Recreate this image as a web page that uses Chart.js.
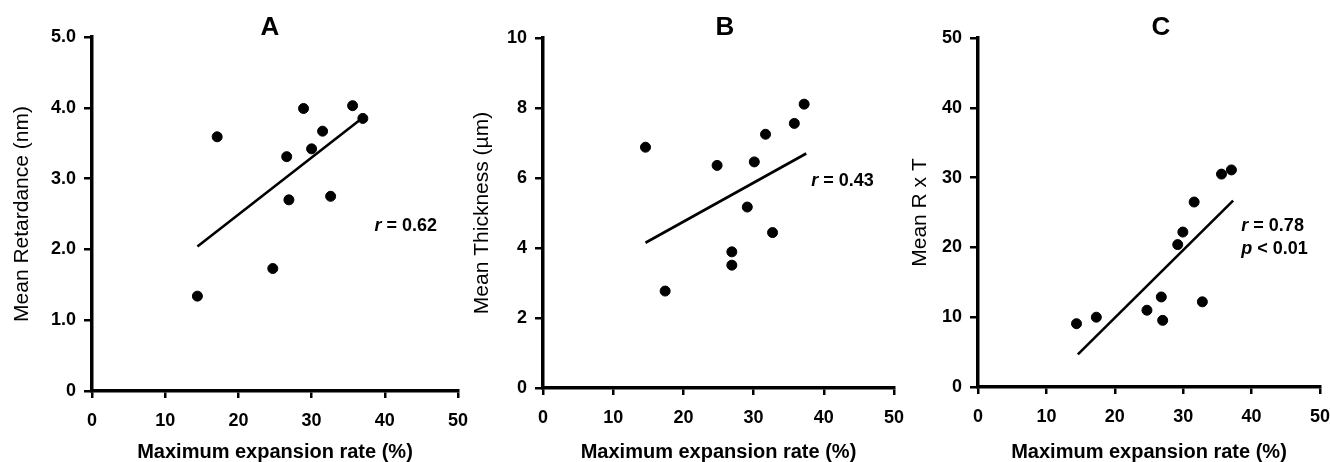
<!DOCTYPE html>
<html>
<head>
<meta charset="utf-8">
<script src="https://cdn.jsdelivr.net/npm/chart.js@4"></script>
<style>
  html, body { margin: 0; padding: 0; background: #ffffff; }
  #wrap { position: relative; width: 1330px; height: 462px; overflow: hidden; background: #ffffff; }
  canvas { position: absolute; top: 0; }
</style>
</head>
<body>
<div id="wrap">
  <canvas id="chartA" width="480" height="462" style="left:0px"></canvas>
  <canvas id="chartB" width="460" height="462" style="left:450px"></canvas>
  <canvas id="chartC" width="440" height="462" style="left:890px"></canvas>
</div>
<script>
// datos
const xTicks = [0, 10, 20, 30, 40, 50];

const expansionA = [14.4, 17.1, 24.7, 26.6, 26.9, 28.9, 30.0, 31.5, 32.6, 35.6, 37.0];
const retardance = [1.34, 3.59, 1.73, 3.31, 2.70, 3.99, 3.42, 3.67, 2.75, 4.03, 3.85];
const fitXA = [14.4, 36.5];
const fitYA = [2.04, 3.82];

const expansionB = [14.6, 17.4, 24.8, 26.9, 26.9, 29.1, 30.1, 31.7, 32.7, 35.8, 37.2];
const thickness  = [6.88, 2.77, 6.36, 3.89, 3.51, 5.17, 6.46, 7.25, 4.44, 7.56, 8.11];
const fitXB = [14.6, 37.5];
const fitYB = [4.15, 6.70];

const expansionC = [14.4, 17.3, 24.7, 26.8, 27.0, 29.2, 29.95, 31.6, 32.8, 35.6, 37.05];
const rxt        = [9.07, 10.0, 11.0, 12.9, 9.55, 20.4, 22.2, 26.5, 12.2, 30.5, 31.1];
const fitXC = [14.6, 37.3];
const fitYC = [4.68, 26.7];

const FONT = "'Liberation Sans', Arial, sans-serif";

function pts(xs, ys) {
  return xs.map((x, i) => ({ x: x, y: ys[i] }));
}

// texto de panel (A, B, C) y anotaciones r / p
const textPlugin = {
  id: 'textos',
  afterDraw(chart, args, opts) {
    const ctx = chart.ctx;
    const area = chart.chartArea;
    ctx.save();
    ctx.fillStyle = '#000';
    ctx.textBaseline = 'middle';
    ctx.textAlign = 'center';
    ctx.font = `bold 26px ${FONT}`;
    ctx.fillText(opts.letter, area.left + opts.letterDx, 28);

    ctx.textAlign = 'left';
    (opts.notes || []).forEach((n) => {
      const px = chart.scales.x.getPixelForValue(n.x);
      const py = chart.scales.y.getPixelForValue(n.y);
      ctx.font = `italic bold 18px ${FONT}`;
      ctx.fillText(n.sym, px, py);
      const w = ctx.measureText(n.sym).width;
      ctx.font = `bold 18px ${FONT}`;
      ctx.fillText(n.rest, px + w, py);
    });
    ctx.restore();
  },
};

function crearPanel(id, cfg) {
  const ctx = document.getElementById(id).getContext('2d');
  return new Chart(ctx, {
    type: 'scatter',
    data: {
      datasets: [
        {
          label: 'datos',
          data: pts(cfg.xs, cfg.ys),
          backgroundColor: '#000',
          borderColor: '#000',
          pointRadius: 5,
          pointHoverRadius: 5,
          showLine: false,
        },
        {
          label: 'ajuste',
          type: 'line',
          data: pts(cfg.fitX, cfg.fitY),
          borderColor: '#000',
          borderWidth: 2.6,
          pointRadius: 0,
          tension: 0,
          fill: false,
        },
      ],
    },
    options: {
      responsive: false,
      animation: false,
      devicePixelRatio: 1,
      layout: { padding: { top: cfg.padTop, right: cfg.padRight, left: 0, bottom: 0 } },
      plugins: {
        legend: { display: false },
        tooltip: { enabled: false },
        textos: { letter: cfg.letter, letterDx: cfg.letterDx, notes: cfg.notes },
      },
      scales: {
        x: {
          type: 'linear',
          min: 0,
          max: 50,
          afterBuildTicks: (s) => { s.ticks = xTicks.map((v) => ({ value: v })); },
          afterFit: (s) => { s.height = cfg.xHeight; s.paddingLeft = 0; s.paddingRight = 0; },
          grid: { display: true, drawOnChartArea: false, drawTicks: true, tickLength: 7, color: '#000', lineWidth: 2.5 },
          border: { color: '#000', width: 3.5 },
          ticks: { color: '#000', padding: 12, maxRotation: 0, font: { family: FONT, size: 18, weight: 'bold' } },
          title: {
            display: true,
            text: 'Maximum expansion rate (%)',
            color: '#000',
            padding: { top: 0, bottom: 0 },
            font: { family: FONT, size: 20, weight: 'bold', lineHeight: 1 },
          },
        },
        y: {
          type: 'linear',
          min: 0,
          max: cfg.yMax,
          afterBuildTicks: (s) => { s.ticks = cfg.yTicks.map((v) => ({ value: v })); },
          afterFit: (s) => { s.width = cfg.yWidth; s.paddingTop = 0; s.paddingBottom = 0; },
          grid: { display: true, drawOnChartArea: false, drawTicks: true, tickLength: 8, color: '#000', lineWidth: 2.5 },
          border: { color: '#000', width: 3.5 },
          ticks: {
            color: '#000',
            padding: 8,
            font: { family: FONT, size: 18, weight: 'bold' },
            callback: cfg.yFmt,
          },
          title: {
            display: true,
            text: cfg.yTitle,
            color: '#000',
            padding: { top: cfg.yTitlePad, bottom: 0 },
            font: { family: FONT, size: 21, weight: 'normal', lineHeight: 1.2 },
          },
        },
      },
    },
    plugins: [textPlugin],
  });
}

crearPanel('chartA', {
  xs: expansionA, ys: retardance, fitX: fitXA, fitY: fitYA,
  yMax: 5, yTicks: [0, 1, 2, 3, 4, 5],
  yFmt: (v) => (v === 0 ? '0' : v.toFixed(1)),
  yTitle: 'Mean Retardance (nm)',
  yWidth: 92, yTitlePad: 10, padTop: 37, padRight: 22, xHeight: 71,
  letter: 'A', letterDx: 178,
  notes: [{ sym: 'r', rest: ' = 0.62', x: 38.6, y: 2.33 }],
});

crearPanel('chartB', {
  xs: expansionB, ys: thickness, fitX: fitXB, fitY: fitYB,
  yMax: 10, yTicks: [0, 2, 4, 6, 8, 10],
  yFmt: (v) => String(v),
  yTitle: 'Mean Thickness (µm)',
  yWidth: 93, yTitlePad: 20, padTop: 38, padRight: 16, xHeight: 74,
  letter: 'B', letterDx: 182,
  notes: [{ sym: 'r', rest: ' = 0.43', x: 38.2, y: 5.9 }],
});

crearPanel('chartC', {
  xs: expansionC, ys: rxt, fitX: fitXC, fitY: fitYC,
  yMax: 50, yTicks: [0, 10, 20, 30, 40, 50],
  yFmt: (v) => String(v),
  yTitle: 'Mean R x T',
  yWidth: 88, yTitlePad: 18, padTop: 38, padRight: 10, xHeight: 75,
  letter: 'C', letterDx: 183,
  notes: [
    { sym: 'r', rest: ' = 0.78', x: 38.5, y: 23.1 },
    { sym: 'p', rest: ' < 0.01', x: 38.5, y: 19.8 },
  ],
});
</script>
</body>
</html>
